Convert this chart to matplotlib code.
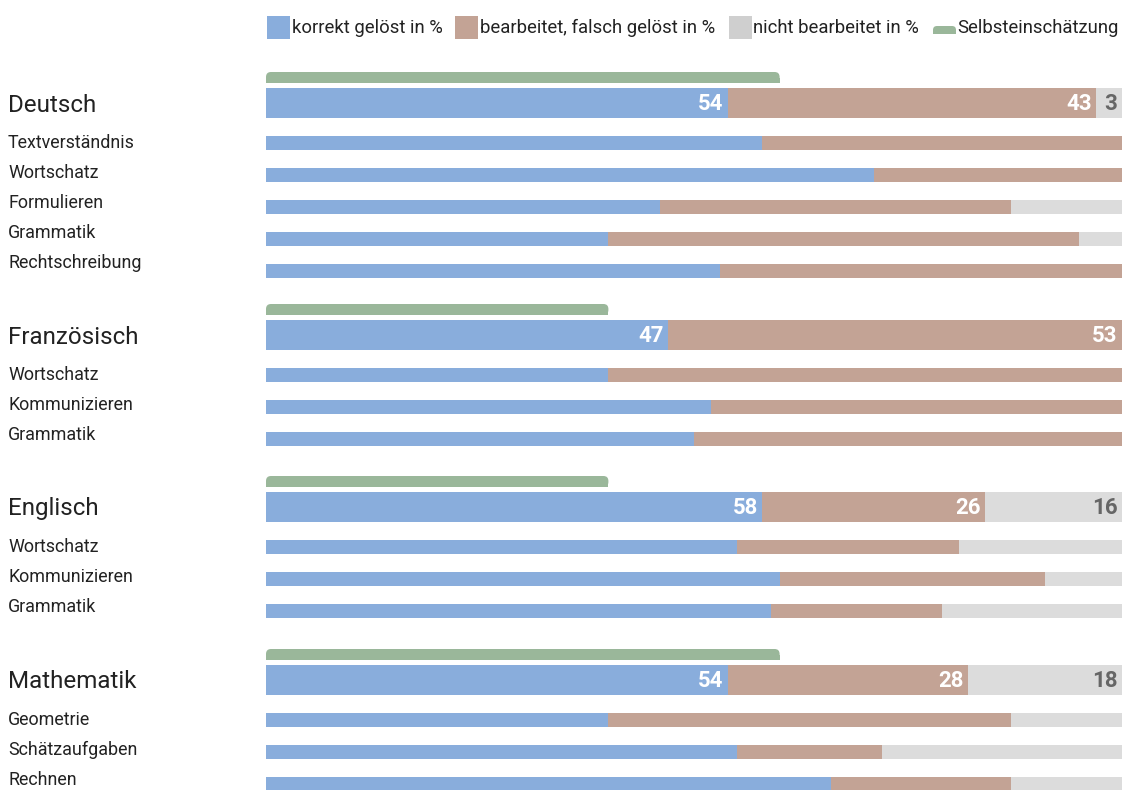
import matplotlib
matplotlib.use("Agg")
import matplotlib.pyplot as plt
from matplotlib.patches import FancyBboxPatch, Rectangle

# ---------------- data ----------------
subjects = ["Deutsch", "Französisch", "Englisch", "Mathematik"]
subject_correct = [54, 47, 58, 54]
subject_wrong = [43, 53, 26, 28]
subject_missing = [3, 0, 16, 18]
self_assessment = [60, 40, 40, 60]

sub_labels = [
    ["Textverständnis", "Wortschatz", "Formulieren", "Grammatik", "Rechtschreibung"],
    ["Wortschatz", "Kommunizieren", "Grammatik"],
    ["Wortschatz", "Kommunizieren", "Grammatik"],
    ["Geometrie", "Schätzaufgaben", "Rechnen"],
]
sub_correct = [
    [58, 71, 46, 40, 53],
    [40, 52, 50],
    [55, 60, 59],
    [40, 55, 66],
]
sub_wrong = [
    [42, 29, 41, 55, 47],
    [60, 48, 50],
    [26, 31, 20],
    [47, 17, 21],
]
sub_missing = [
    [0, 0, 13, 5, 0],
    [0, 0, 0],
    [19, 9, 21],
    [13, 28, 13],
]

legend_labels = ["korrekt gelöst in %", "bearbeitet, falsch gelöst in %",
                 "nicht bearbeitet in %", "Selbsteinschätzung"]

# ---------------- style ----------------
C_BLUE = "#89ADDC"
C_BROWN = "#C3A395"
C_GRAY = "#DCDCDC"
C_GRAY_LEG = "#CFCFCF"
C_GREEN = "#9AB79A"
FONT = "Roboto"
TXT = "#222222"

W, H = 1122, 790
fig = plt.figure(figsize=(W / 100, H / 100), dpi=100)

x0_px, x1_px = 266, 1122
ax = fig.add_axes([x0_px / W, 0, (x1_px - x0_px) / W, 1])
ax.set_xlim(0, 100)
ax.set_ylim(H, 0)
ax.axis("off")

ov = fig.add_axes([0, 0, 1, 1], zorder=-1)
ov.set_xlim(0, W)
ov.set_ylim(H, 0)
ov.axis("off")

# layout (pixel rows)
group_main_top = [88, 320, 492, 665]
main_h = 30
green_h = 11
green_gap = 5
sub_first_offset = 40  # from main center to first sub center
sub_step = 32
label_step = 30
sub_h = 14
px_per_unit = (x1_px - x0_px) / 100.0


def stacked(yc, h, c, w, m):
    ax.barh(yc, c, height=h, left=0, color=C_BLUE, linewidth=0)
    ax.barh(yc, w, height=h, left=c, color=C_BROWN, linewidth=0)
    if m:
        ax.barh(yc, m, height=h, left=c + w, color=C_GRAY, linewidth=0)


def rounded_top(axis, x, y_top, width, height, color, radius_px, aspect, **kw):
    r = radius_px / aspect if aspect else radius_px
    p = FancyBboxPatch((x, y_top), width, height,
                       boxstyle=f"round,pad=0,rounding_size={r}",
                       mutation_aspect=aspect, facecolor=color,
                       edgecolor="none", **kw)
    axis.add_patch(p)
    axis.add_patch(Rectangle((x, y_top + height / 2), width, height / 2,
                             facecolor=color, edgecolor="none", **kw))


for g, subj in enumerate(subjects):
    top = group_main_top[g]
    yc = top + main_h / 2
    c, w, m = subject_correct[g], subject_wrong[g], subject_missing[g]
    stacked(yc, main_h, c, w, m)

    # self assessment bar
    rounded_top(ax, 0, top - green_gap - green_h, self_assessment[g], green_h,
                C_GREEN, 5, px_per_unit)

    # value labels
    pad = 0.55
    fs = 16
    ax.text(c - pad, yc + 1, str(c), ha="right", va="center", color="white",
            fontsize=fs, fontweight="bold", family=FONT)
    ax.text(c + w - pad, yc + 1, str(w), ha="right", va="center", color="white",
            fontsize=fs, fontweight="bold", family=FONT)
    if m:
        ax.text(100 - pad, yc + 1, str(m), ha="right", va="center", color="#666666",
                fontsize=fs, fontweight="bold", family=FONT)

    ov.text(8, yc + 2, subj, ha="left", va="center", fontsize=17.4,
            color=TXT, family=FONT, fontweight="normal")

    for i, lab in enumerate(sub_labels[g]):
        ys = yc + sub_first_offset + i * sub_step
        stacked(ys, sub_h, sub_correct[g][i], sub_wrong[g][i], sub_missing[g][i])
        yl = yc + sub_first_offset + i * label_step
        ov.text(8, yl, lab, ha="left", va="center", fontsize=12.9,
                color=TXT, family=FONT)

# ---------------- legend ----------------
leg_y = 28
leg_items = [
    (267, C_BLUE, legend_labels[0], 292),
    (455, C_BROWN, legend_labels[1], 480),
    (729, C_GRAY_LEG, legend_labels[2], 753),
]
for xs, col, lab, xt in leg_items:
    ov.add_patch(Rectangle((xs, leg_y - 12), 23, 23, facecolor=col, edgecolor="none"))
    ov.text(xt, leg_y, lab, ha="left", va="center", fontsize=13.3,
            color=TXT, family=FONT)

rounded_top(ov, 933, 26, 23, 8, C_GREEN, 4, 1.0)
ov.text(957, leg_y, legend_labels[3], ha="left", va="center", fontsize=13.3,
        color=TXT, family=FONT)

fig.savefig("out.png", dpi=100)
